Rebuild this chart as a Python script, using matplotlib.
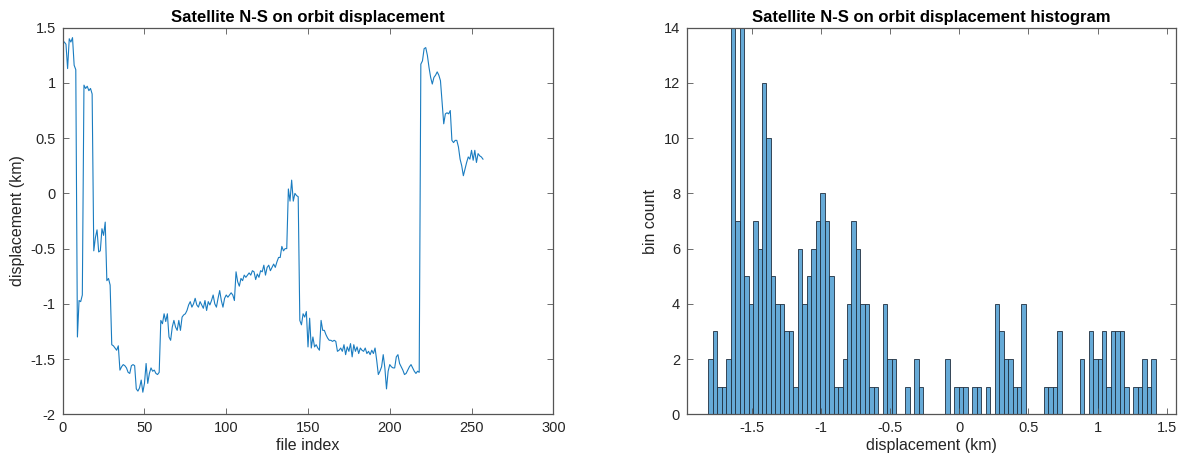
import numpy as np
import matplotlib
matplotlib.use("Agg")
import matplotlib.pyplot as plt
from matplotlib.ticker import FuncFormatter

plt.rcParams['font.family'] = ['Liberation Sans', 'DejaVu Sans']
plt.rcParams['axes.unicode_minus'] = False

# ---- data: N-S displacement per file (km) ----
displacement = [
    1.37, 1.35, 1.13, 1.40, 1.37, 1.41, 1.16, 1.12, -1.30, -0.97,
    -0.98, -0.92, 0.98, 0.95, 0.97, 0.93, 0.95, 0.90, -0.52, -0.40,
    -0.33, -0.53, -0.52, -0.32, -0.38, -0.26, -0.79, -0.77, -0.83, -1.37,
    -1.38, -1.40, -1.42, -1.38, -1.60, -1.57, -1.55, -1.56, -1.58, -1.62,
    -1.63, -1.56, -1.55, -1.56, -1.77, -1.79, -1.76, -1.69, -1.80, -1.72,
    -1.54, -1.72, -1.63, -1.58, -1.61, -1.60, -1.63, -1.64, -1.62, -1.15,
    -1.18, -1.09, -1.16, -1.09, -1.30, -1.33, -1.21, -1.15, -1.21, -1.24,
    -1.15, -1.24, -1.12, -1.10, -1.09, -1.06, -1.01, -0.98, -1.03, -1.00,
    -0.95, -1.01, -1.03, -0.98, -1.01, -1.04, -0.97, -1.06, -0.98, -1.01,
    -0.97, -0.92, -1.00, -1.03, -0.95, -0.88, -0.97, -1.03, -0.95, -0.92,
    -0.94, -0.92, -0.90, -0.92, -0.97, -0.71, -0.80, -0.84, -0.77, -0.79,
    -0.74, -0.76, -0.74, -0.72, -0.74, -0.70, -0.71, -0.78, -0.73, -0.76,
    -0.70, -0.71, -0.65, -0.74, -0.67, -0.65, -0.70, -0.67, -0.64, -0.67,
    -0.62, -0.58, -0.58, -0.48, -0.52, -0.50, -0.50, 0.04, -0.07, 0.12,
    -0.07, 0.00, -0.02, -0.03, -1.15, -1.19, -1.09, -1.12, -1.07, -1.39,
    -1.13, -1.40, -1.30, -1.39, -1.37, -1.40, -1.42, -1.15, -1.24, -1.24,
    -1.28, -1.31, -1.33, -1.33, -1.34, -1.33, -1.34, -1.43, -1.42, -1.40,
    -1.43, -1.37, -1.46, -1.39, -1.43, -1.36, -1.48, -1.37, -1.43, -1.39,
    -1.45, -1.40, -1.42, -1.43, -1.40, -1.45, -1.43, -1.46, -1.42, -1.45,
    -1.40, -1.51, -1.64, -1.61, -1.57, -1.46, -1.58, -1.77, -1.61, -1.55,
    -1.57, -1.58, -1.58, -1.48, -1.46, -1.54, -1.57, -1.60, -1.64, -1.63,
    -1.60, -1.57, -1.55, -1.58, -1.61, -1.63, -1.61, -1.62, 1.17, 1.20,
    1.31, 1.32, 1.25, 1.14, 1.05, 0.99, 1.05, 1.07, 1.10, 1.07,
    1.02, 0.82, 0.63, 0.72, 0.73, 0.72, 0.75, 0.48, 0.46, 0.48,
    0.48, 0.42, 0.31, 0.25, 0.16, 0.22, 0.28, 0.33, 0.31, 0.39,
    0.30, 0.39, 0.28, 0.36, 0.34, 0.33, 0.31,
]
file_index = list(range(1, len(displacement) + 1))

# ---- histogram: 100 bins between these limits ----
hist_lo = -1.816
hist_hi = 1.420
bin_counts = [
    2, 3, 1, 1, 2, 14, 7, 14, 5, 4,
    7, 6, 12, 10, 5, 4, 4, 3, 3, 1,
    6, 4, 5, 6, 7, 8, 7, 5, 1, 1,
    2, 4, 7, 6, 4, 4, 1, 1, 0, 4,
    2, 2, 0, 0, 1, 0, 2, 1, 0, 0,
    0, 0, 0, 2, 0, 1, 1, 1, 0, 1,
    1, 0, 1, 0, 4, 3, 2, 2, 1, 1,
    4, 0, 0, 0, 0, 1, 1, 1, 3, 0,
    0, 0, 0, 2, 0, 3, 2, 2, 3, 1,
    3, 3, 3, 1, 0, 1, 1, 2, 1, 2,
]
bin_edges = np.linspace(hist_lo, hist_hi, len(bin_counts) + 1)

# ---- figure ----
W, H = 1180, 462
fig = plt.figure(figsize=(W / 100, H / 100), dpi=100)

def px_axes(l, r, t, b):
    return fig.add_axes([l / W, 1 - b / H, (r - l) / W, (b - t) / H])

axis_col = '#555555'
text_col = '#262626'

def style(ax):
    for s in ax.spines.values():
        s.set_color(axis_col)
        s.set_linewidth(0.9)
    ax.tick_params(direction='in', length=4, width=0.6, color=axis_col,
                   labelsize=10.5, labelcolor=text_col, top=True, right=True,
                   pad=5)

# left: line plot
ax1 = px_axes(62.7, 553.3, 27.7, 414.3)
ax1.plot(file_index, displacement, color='#1a7cc0', linewidth=0.8)
ax1.set_xlim(0, 300)
ax1.set_ylim(-2, 1.5)
ax1.set_xticks(np.arange(0, 301, 50))
ax1.set_yticks(np.arange(-2, 1.51, 0.5))
ax1.yaxis.set_major_formatter(FuncFormatter(lambda v, p: f'{v:g}'))
style(ax1)
ax1.set_title('Satellite N-S on orbit displacement', fontsize=12,
              fontweight='bold', color='black', pad=4)
ax1.set_xlabel('file index', fontsize=11.5, color=text_col, labelpad=2)
ax1.set_ylabel('displacement (km)', fontsize=11.5, color=text_col, labelpad=4)

# right: histogram
ax2 = px_axes(687, 1176, 27.7, 414.3)
ax2.bar(bin_edges[:-1], bin_counts, width=np.diff(bin_edges), align='edge',
        color='#66AAD7', edgecolor='#1f2f3f', linewidth=0.6)
ax2.set_xlim(-1.970, 1.567)
ax2.set_ylim(0, 14)
ax2.set_xticks(np.arange(-1.5, 1.51, 0.5))
ax2.set_yticks(np.arange(0, 15, 2))
ax2.xaxis.set_major_formatter(FuncFormatter(lambda v, p: f'{v:g}'))
style(ax2)
ax2.set_title('Satellite N-S on orbit displacement histogram', fontsize=12,
              fontweight='bold', color='black', pad=4)
ax2.set_xlabel('displacement (km)', fontsize=11.5, color=text_col, labelpad=2)
ax2.set_ylabel('bin count', fontsize=11.5, color=text_col, labelpad=4)

fig.savefig('out.png', dpi=100, facecolor='white')
